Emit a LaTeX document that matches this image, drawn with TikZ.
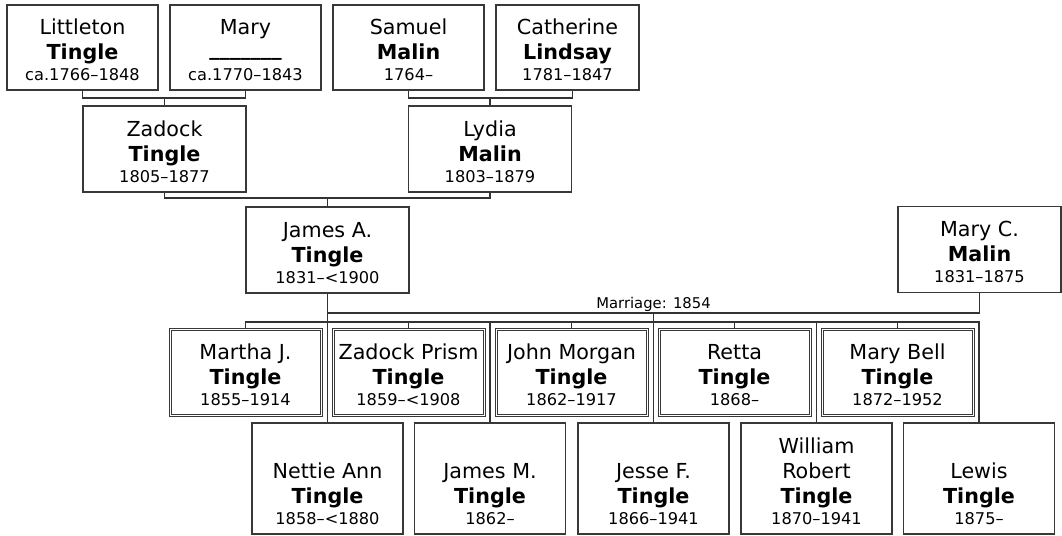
\documentclass[tikz,border=0pt]{standalone}
\usepackage{fontspec}
\setmainfont{DejaVu Sans}
\usetikzlibrary{calc}
\newcommand\namefont{\fontsize{15.5pt}{18.75pt}\selectfont}
\newcommand\datefont{\fontsize{12.15pt}{15.75pt}\selectfont}
\newcommand\who[3]{\parbox[b]{107pt}{\centering\namefont #1\\\textbf{#2}\\[-3pt]{\datefont #3}}}
\begin{document}
\begin{tikzpicture}[x=0.75pt,y=-0.75pt,
  box/.style={draw=black!78, line width=1.1pt, fill=white, inner xsep=0pt, inner ysep=7.5pt,
              text depth=0pt, minimum width=113.25pt},
  r1/.style={box, text height=48.75pt},
  r2/.style={box, minimum width=122.25pt, text height=49.5pt},
  kid/.style={box, double, double distance=0.75pt, line width=0.75pt, text height=49.5pt},
  low/.style={box, text height=68.25pt},
  con/.style={draw=black!80, line width=0.8pt},
  lbl/.style={font=\fontsize{11.1pt}{13pt}\selectfont, inner sep=0pt}]
\useasboundingbox (0,0) rectangle (1062,535);
% generation 1
\node[r1] (lit)  at (82.5,47.5)  {\who{Littleton}{Tingle}{ca.1766–1848}};
\node[r1] (mary) at (245.5,47.5) {\who{Mary}{\raisebox{2.5pt}{\_\_\_\_\_\_\_}}{ca.1770–1843}};
\node[r1] (sam)  at (408.5,47.5) {\who{Samuel}{Malin}{1764–}};
\node[r1, minimum width=107.25pt] (cath) at (567.5,47.5) {\who{Catherine}{Lindsay}{1781–1847}};
% generation 2
\node[r2] (zad) at (164.5,149) {\who{Zadock}{Tingle}{1805–1877}};
\node[r2] (lyd) at (490,149)   {\who{Lydia}{Malin}{1803–1879}};
% generation 3
\node[r2] (jam) at (327.5,250) {\who{James A.}{Tingle}{1831–<1900}};
\node[r2] (mc)  at (979.5,249.5) {\who{Mary C.}{Malin}{1831–1875}};
% children, upper row
\node[kid] (mar) at (245.5,372) {\who{Martha J.}{Tingle}{1855–1914}};
\node[kid] (zp)  at (408.5,372) {\who{Zadock Prism}{Tingle}{1859–<1908}};
\node[kid] (jm)  at (571.5,372) {\who{John Morgan}{Tingle}{1862–1917}};
\node[kid] (ret) at (734.5,372) {\who{Retta}{Tingle}{1868–}};
\node[kid] (mb)  at (897.5,372) {\who{Mary Bell}{Tingle}{1872–1952}};
% children, lower row
\node[low] (net) at (327.5,478.5) {\who{Nettie Ann}{Tingle}{1858–<1880}};
\node[low] (jmm) at (490,478.5)   {\who{James M.}{Tingle}{1862–}};
\node[low] (jes) at (653.5,478.5) {\who{Jesse F.}{Tingle}{1866–1941}};
\node[low] (wil) at (816.5,478.5) {\who{William\\Robert}{Tingle}{1870–1941}};
\node[low] (lew) at (979,478.5)   {\who{Lewis}{Tingle}{1875–}};
% levels
\coordinate (y1) at (0,98);
\coordinate (y2) at (0,198);
\coordinate (ym) at (0,313);
\coordinate (yk) at (0,322);
% connectors
\draw[con] (lit.south) -- (lit.south |- y1) -- (mary.south |- y1) -- (mary.south);
\draw[con] (zad.north) -- (zad.north |- y1);
\draw[con] (sam.south) -- (sam.south |- y1) -| (cath.south -| lyd.east);
\draw[con] (lyd.north) -- (lyd.north |- y1);
\draw[con] (zad.south) -- (zad.south |- y2) -| (lyd.south);
\draw[con] (jam.north) -- (jam.north |- y2);
\draw[con] (jam.south) -- (net.north);
\draw[con] (jam.south |- ym) -| (mc.south);
\draw[con] (jes.north |- ym) -- (jes.north);
\node[lbl, anchor=base, yshift=3.75pt] (marr) at ($(jam.south |- ym)!0.5!(mc.south |- ym)$) {Marriage: 1854};
\draw[con] (mar.north) -- (mar.north |- yk) -- (lew.north |- yk) -- (lew.north);
\foreach \n in {zp,jm,ret,mb} \draw[con] (\n.north) -- (\n.north |- yk);
\foreach \n in {jmm,wil} \draw[con] (\n.north |- yk) -- (\n.north);
\end{tikzpicture}
\end{document}
